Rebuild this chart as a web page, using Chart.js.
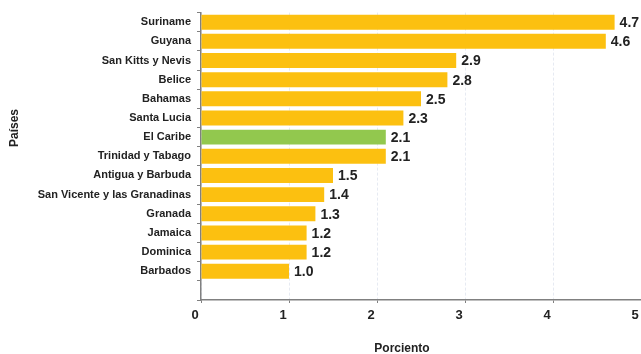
<!DOCTYPE html>
<html>
<head>
<meta charset="utf-8">
<script src="https://cdn.jsdelivr.net/npm/chart.js"></script>
<style>
html,body{margin:0;padding:0;background:#fff}
#wrap{width:641px;height:354px}
</style>
</head>
<body>
<div id="wrap"><canvas id="chart"></canvas></div>
<script>
// ===== DATA =====
const paises=['Suriname','Guyana','San Kitts y Nevis','Belice','Bahamas','Santa Lucia','El Caribe','Trinidad y Tabago','Antigua y Barbuda','San Vicente y las Granadinas','Granada','Jamaica','Dominica','Barbados','']
const valores=[4.7,4.6,2.9,2.8,2.5,2.3,2.1,2.1,1.5,1.4,1.3,1.2,1.2,1.0,null]
const xTicks=[0,1,2,3,4,5]

const AMARILLO='#FCC010'
const VERDE='#92C84E'
const colores=paises.map(p=>p==='El Caribe'?VERDE:AMARILLO)
const FUENTE='"Liberation Sans", Arial, sans-serif'

// value labels at bar end + axis titles placed like the original
const etiquetas={
  id:'etiquetas',
  afterDatasetsDraw(chart){
    const ctx=chart.ctx
    const meta=chart.getDatasetMeta(0)
    ctx.save()
    ctx.font='bold 14px '+FUENTE
    ctx.fillStyle='#222'
    ctx.textBaseline='middle'
    meta.data.forEach((bar,i)=>{
      if(valores[i]==null) return
      ctx.fillText(valores[i].toFixed(1),bar.x+5,bar.y+1)
    })
    // titles
    ctx.font='bold 12px '+FUENTE
    ctx.textAlign='center'
    ctx.fillText('Porciento',402,349)
    ctx.translate(15,128)
    ctx.rotate(-Math.PI/2)
    ctx.fillText('Países',0,0)
    ctx.restore()
  }
}

new Chart(chart,{
  type:'bar',
  data:{labels:paises,datasets:[{data:valores,backgroundColor:colores,barPercentage:0.78,categoryPercentage:1}]},
  plugins:[etiquetas],
  options:{
    indexAxis:'y',
    responsive:true,
    maintainAspectRatio:false,
    animation:false,
    layout:{padding:{top:12,right:0,left:0,bottom:0}},
    plugins:{legend:{display:false},tooltip:{enabled:false}},
    scales:{
      x:{
        min:0,max:5,
        afterBuildTicks:s=>{s.ticks=xTicks.map(v=>({value:v}))},
        afterFit:s=>{s.height=54;s.paddingRight=0;s.paddingLeft=0},
        ticks:{color:'#222',font:{family:FUENTE,size:13,weight:'bold'},padding:5,labelOffset:-6},
        grid:{color:'#e6eaf2',tickLength:3,tickColor:'#808080'},
        border:{color:'#808080',width:1.5,dash:[3,2]}
      },
      y:{
        afterFit:s=>{s.width=201},
        ticks:{color:'#222',autoSkip:false,font:{family:FUENTE,size:11,weight:'bold'},padding:6},
        grid:{offset:true,drawOnChartArea:false,tickLength:4,tickColor:'#808080'},
        border:{color:'#808080',width:1.5}
      }
    }
  }
})
</script>
</body>
</html>
